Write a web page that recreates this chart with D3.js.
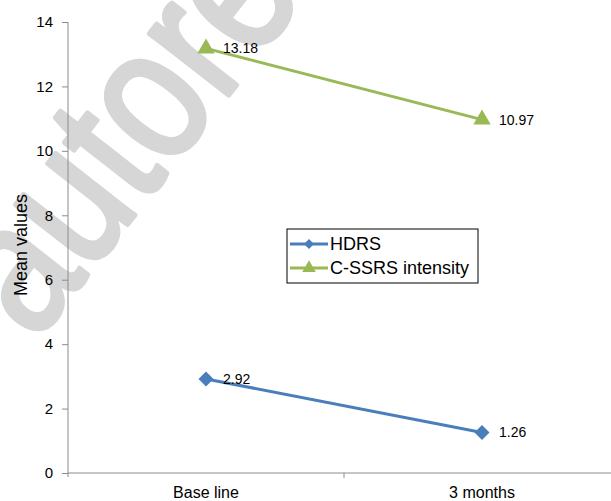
<!DOCTYPE html>
<html>
  <head>
    <meta charset="utf-8" />
    <style>
      body { margin: 0; background: #fff; }
      text { font-family: "Liberation Sans", Arial, sans-serif; }
    </style>
  </head>
  <body>
    <div id="chart"></div>
    <script src="https://d3js.org/d3.v7.min.js"></script>
    <script type="text/javascript">
        const categories = ["Base line", "3 months"];
        const hdrs = [2.92, 1.26];
        const cssrs = [13.18, 10.97];
        const yTicks = [0, 2, 4, 6, 8, 10, 12, 14];

        const series = [
            { name: "HDRS", values: hdrs, color: "#4a7ebb", symbol: "diamond" },
            { name: "C-SSRS intensity", values: cssrs, color: "#98b954", symbol: "triangle" }
        ];

        const width = 611;
        const height = 501;
        const margin = ({top: 22, right: -9, bottom: 28, left: 68});

        const x = d3.scaleBand()
            .domain(categories)
            .range([margin.left, width - margin.right]);
        const y = d3.scaleLinear()
            .domain([0, 14])
            .range([height - margin.bottom, margin.top]);

        const svg = d3.select("#chart")
            .append("svg")
            .attr("width", width)
            .attr("height", height);

        // watermark
        svg.append("text")
            .attr("transform", "translate(35,343) rotate(-52) scale(0.82,1)")
            .attr("font-size", 190)
            .attr("fill", "#d6d6d6")
            .attr("stroke", "#d6d6d6")
            .attr("stroke-width", 5)
            .attr("stroke-linejoin", "round")
            .text("autore");

        // marker shape
        const marker = (type, size) => type === "diamond"
            ? d3.symbol().type(d3.symbolSquare).size(size)
            : d3.symbol().type(d3.symbolTriangle).size(size);
        const rot = type => type === "diamond" ? " rotate(45)" : "";

        // y axis
        svg.append("g")
            .attr("transform", `translate(${margin.left},0)`)
            .call(d3.axisLeft(y).tickValues(yTicks).tickSize(6).tickPadding(9))
            .call(g => g.select(".domain").attr("stroke", "#8c8c8c").attr("d", `M0,${y(14)}V${y(0) + 4}`))
            .call(g => g.selectAll(".tick line").attr("stroke", "#8c8c8c"))
            .call(g => g.selectAll(".tick text").attr("font-size", 15).attr("fill", "#000")
                .attr("font-family", "Liberation Sans, Arial, sans-serif"));

        // x axis
        svg.append("g")
            .attr("transform", `translate(0,${y(0)})`)
            .call(d3.axisBottom(x).tickSize(0).tickPadding(14))
            .call(g => g.select(".domain").attr("stroke", "#8c8c8c").attr("d", `M${margin.left},0H${width}`))
            .call(g => g.selectAll(".tick text").attr("font-size", 16).attr("fill", "#000")
                .attr("font-family", "Liberation Sans, Arial, sans-serif"))
            .call(g => g.append("g")
                .selectAll("line")
                .data(categories.slice(1))
                .join("line")
                .attr("x1", d => x(d))
                .attr("x2", d => x(d))
                .attr("y1", 0)
                .attr("y2", 5)
                .attr("stroke", "#8c8c8c"));

        // y title
        svg.append("text")
            .attr("transform", `translate(27,245) rotate(-90)`)
            .attr("text-anchor", "middle")
            .attr("font-size", 18)
            .text("Mean values");

        const cx = d => x(d) + x.bandwidth() / 2;
        const line = d3.line()
            .x((d, i) => cx(categories[i]))
            .y(d => y(d));

        series.forEach(s => {
            svg.append("path")
                .datum(s.values)
                .attr("fill", "none")
                .attr("stroke", s.color)
                .attr("stroke-width", 3)
                .attr("d", line);

            svg.append("g")
                .selectAll("path")
                .data(s.values)
                .join("path")
                .attr("transform", (d, i) => `translate(${cx(categories[i])},${y(d)})${rot(s.symbol)}`)
                .attr("d", marker(s.symbol, s.symbol === "diamond" ? 112 : 130))
                .attr("fill", s.color);

            svg.append("g")
                .selectAll("text")
                .data(s.values)
                .join("text")
                .attr("x", (d, i) => cx(categories[i]) + 17)
                .attr("y", d => y(d))
                .attr("dy", "0.35em")
                .attr("font-size", 14)
                .text(d => d.toFixed(2));
        });

        // legend
        const legend = svg.append("g").attr("transform", "translate(287,229)");
        legend.append("rect")
            .attr("width", 191)
            .attr("height", 54)
            .attr("fill", "#fff")
            .attr("stroke", "#000")
            .attr("stroke-width", 1);
        series.forEach((s, i) => {
            const ly = 15 + i * 24;
            legend.append("line")
                .attr("x1", 3).attr("x2", 41)
                .attr("y1", ly).attr("y2", ly)
                .attr("stroke", s.color)
                .attr("stroke-width", 3);
            legend.append("path")
                .attr("transform", `translate(22,${ly})${rot(s.symbol)}`)
                .attr("d", marker(s.symbol, s.symbol === "diamond" ? 50 : 80))
                .attr("fill", s.color);
            legend.append("text")
                .attr("x", 43)
                .attr("y", ly)
                .attr("dy", "0.35em")
                .attr("font-size", 18)
                .text(s.name);
        });
    </script>
  </body>
</html>
